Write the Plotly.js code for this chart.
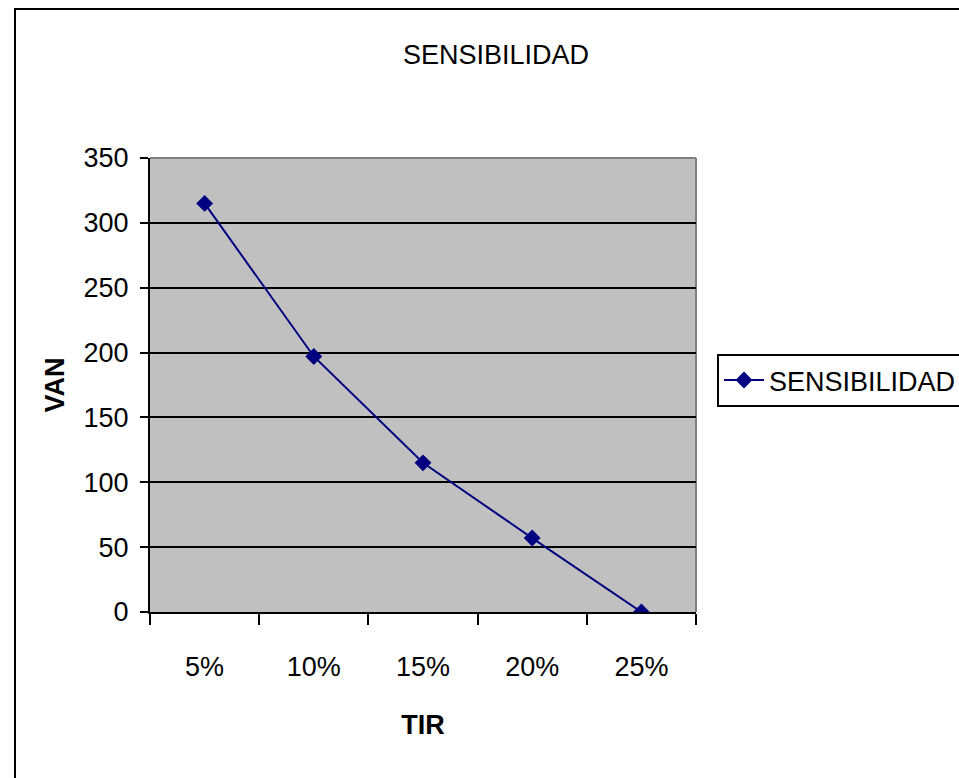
<!DOCTYPE html>
<html>
<head>
<meta charset="utf-8">
<script src="https://cdn.plot.ly/plotly-3.0.1.min.js"></script>
<style>
html,body{margin:0;padding:0;background:#fff;}
#chart{width:959px;height:778px;}
</style>
</head>
<body>
<div id="chart"></div>
<script>
var categories = ['5%', '10%', '15%', '20%', '25%'];
var vanValues = [315, 197, 115, 57, 0];
var yTicks = [0, 50, 100, 150, 200, 250, 300, 350];
var seriesName = 'SENSIBILIDAD';
var chartTitle = 'SENSIBILIDAD';
var xTitle = 'TIR';
var yTitle = 'VAN';

var FONT = '"Liberation Sans Narrow", "Arial Narrow", "Liberation Sans", Arial, sans-serif';
var FS = 27;
var W = 959, H = 778;
var L = 150, R = 263, T = 158, B = 166;
var pw = W - L - R, ph = H - T - B;
function px(x) { return (x - L) / pw; }
function py(y) { return (H - B - y) / ph; }

var trace = {
  type: 'scatter',
  mode: 'lines+markers',
  x: categories,
  y: vanValues,
  name: seriesName,
  line: {color: '#000080', width: 2},
  marker: {symbol: 'diamond', size: 13, color: '#000080'}
};

var layout = {
  width: W, height: H,
  margin: {l: L, r: R, t: T, b: B, pad: 0, autoexpand: false},
  paper_bgcolor: '#ffffff',
  plot_bgcolor: '#c0c0c0',
  font: {family: FONT, size: FS, color: '#000'},
  title: {
    text: chartTitle,
    font: {family: FONT, size: FS, color: '#000'},
    x: 496 / W, xref: 'container', xanchor: 'center',
    y: 1 - 55 / H, yref: 'container', yanchor: 'middle'
  },
  xaxis: {
    type: 'category',
    range: [-0.5, 4.5],
    tickson: 'boundaries',
    ticks: 'outside', ticklen: 11, tickwidth: 2, tickcolor: '#000',
    showline: true, linecolor: '#000', linewidth: 2,
    showgrid: false, zeroline: false,
    ticklabelstandoff: 30,
    tickfont: {family: FONT, size: FS, color: '#000'},
    title: {text: xTitle, font: {family: FONT, size: FS, color: '#000', weight: 'bold'}, standoff: 34}
  },
  yaxis: {
    range: [0, 350],
    tickvals: yTicks,
    ticks: 'outside', ticklen: 8, tickwidth: 2, tickcolor: '#000',
    showline: true, linecolor: '#000', linewidth: 2,
    showgrid: true, gridcolor: '#000', gridwidth: 2,
    zeroline: false,
    ticklabelstandoff: 6,
    tickfont: {family: FONT, size: FS, color: '#000'},
    title: {text: yTitle, font: {family: FONT, size: FS, color: '#000', weight: 'bold'}, standoff: 11}
  },
  showlegend: true,
  legend: {
    x: px(717), y: py(354), xanchor: 'left', yanchor: 'top',
    bgcolor: '#ffffff', bordercolor: '#000', borderwidth: 2,
    font: {family: FONT, size: FS, color: '#000'},
    itemwidth: 40
  },
  shapes: [
    {type: 'line', xref: 'paper', yref: 'paper', x0: 0, x1: 1, y0: 1, y1: 1,
     line: {color: '#808080', width: 2}, layer: 'above'},
    {type: 'line', xref: 'paper', yref: 'paper', x0: 1, x1: 1, y0: 0, y1: 1,
     line: {color: '#808080', width: 2}, layer: 'below'},
    {type: 'rect', xref: 'paper', yref: 'paper',
     x0: px(15), x1: px(990), y0: py(9), y1: py(800),
     line: {color: '#000', width: 2}, fillcolor: 'rgba(0,0,0,0)', layer: 'below'}
  ]
};

Plotly.newPlot('chart', [trace], layout, {displayModeBar: false, staticPlot: true});
</script>
</body>
</html>
